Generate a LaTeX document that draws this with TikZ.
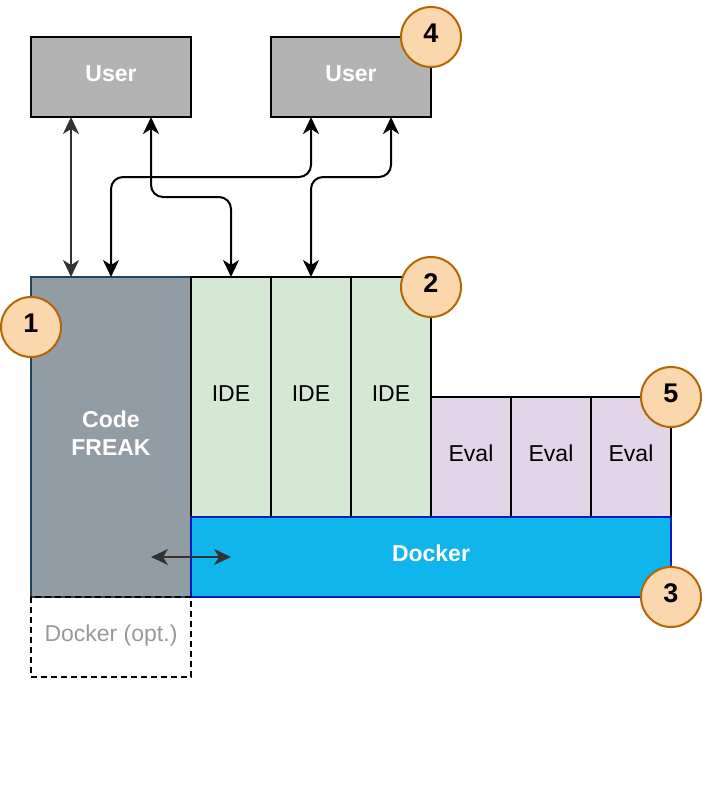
\documentclass[tikz,border=0pt]{standalone}
\usepackage{fontspec}
\setmainfont{Liberation Sans}
\usepackage{tikz}
\usetikzlibrary{arrows.meta, positioning}
\definecolor{usergray}{HTML}{B3B3B3}
\definecolor{freakfill}{HTML}{929CA5}
\definecolor{freakline}{HTML}{23445D}
\definecolor{idegreen}{HTML}{D5E8D4}
\definecolor{evalpurple}{HTML}{E1D5E7}
\definecolor{dockerblue}{HTML}{10B5EB}
\definecolor{dockerline}{HTML}{001DBC}
\definecolor{markerfill}{HTML}{FAD7AC}
\definecolor{markerline}{HTML}{B46504}
\definecolor{darkline}{HTML}{333333}
\definecolor{opttext}{HTML}{999999}
\tikzstyle{box} = [rectangle, line width=2pt, outer sep=0pt, inner sep=0pt, text centered, text height=16pt, text depth=8pt, font=\fontsize{23}{28}\selectfont]
\tikzstyle{userbox} = [box, minimum width=160pt, minimum height=80pt, draw=black, fill=usergray, text=white, font=\bfseries\fontsize{23}{28}\selectfont]
\tikzstyle{freakbox} = [box, minimum width=160pt, minimum height=320pt, draw=freakline, fill=freakfill, text=white, align=center, text height=44pt, text depth=8pt, font=\bfseries\fontsize{23}{28}\selectfont]
\tikzstyle{idebox} = [box, minimum width=80pt, minimum height=240pt, draw=black, fill=idegreen]
\tikzstyle{evalbox} = [box, minimum width=80pt, minimum height=120pt, draw=black, fill=evalpurple]
\tikzstyle{dockerbox} = [box, minimum width=480pt, minimum height=80pt, draw=dockerline, fill=dockerblue, text=white, font=\bfseries\fontsize{23}{28}\selectfont]
\tikzstyle{optbox} = [box, minimum width=160pt, minimum height=80pt, draw=black, dashed, dash pattern=on 6pt off 4pt, text=opttext]
\tikzstyle{marker} = [circle, minimum size=60pt, inner sep=0pt, line width=2pt, draw=markerline, fill=markerfill, text height=19pt, text depth=8.5pt, font=\bfseries\fontsize{27}{31}\selectfont]
\tikzstyle{arrow} = [line width=2pt, <->, >={Stealth[length=17pt, width=16pt, inset=5pt]}, rounded corners=12pt]

\begin{document}
\begin{tikzpicture}[x=1pt, y=-1pt]
\useasboundingbox (0,0) rectangle (702,788);
\node (user1) [userbox] at (111,77) {User};
\node (user2) [userbox, right=80pt of user1] {User};
\node (freak) [freakbox] at (111,437) {Code\\FREAK};
\node (ide1) [idebox, anchor=north west] at (freak.north east) {IDE};
\node (ide2) [idebox, right=0pt of ide1] {IDE};
\node (ide3) [idebox, right=0pt of ide2] {IDE};
\node (eval1) [evalbox, anchor=south west] at (ide3.south east) {Eval};
\node (eval2) [evalbox, right=0pt of eval1] {Eval};
\node (eval3) [evalbox, right=0pt of eval2] {Eval};
\node (docker) [dockerbox, anchor=north west] at (ide1.south west) {Docker};
\node (opt) [optbox, below=0pt of freak] {Docker (opt.)};

\node (m1) [marker] at ([yshift=-50pt]freak.north west) {1};
\node (m2) [marker] at ([yshift=-10pt]ide3.north east) {2};
\node (m3) [marker] at (docker.south east) {3};
\node (m4) [marker] at (user2.north east) {4};
\node (m5) [marker] at (eval3.north east) {5};

\draw [arrow, draw=darkline] ([xshift=-40pt]user1.south) -- ([xshift=-40pt]freak.north);
\draw [arrow] ([xshift=40pt]user1.south) -- ++(0,80) -| (ide1.north);
\draw [arrow] ([xshift=-40pt]user2.south) -- ++(0,60) -| (freak.north);
\draw [arrow] ([xshift=40pt]user2.south) -- ++(0,60) -| (ide2.north);
\draw [arrow, draw=darkline] ([xshift=-40pt]docker.west) -- ([xshift=40pt]docker.west);
\end{tikzpicture}
\end{document}
